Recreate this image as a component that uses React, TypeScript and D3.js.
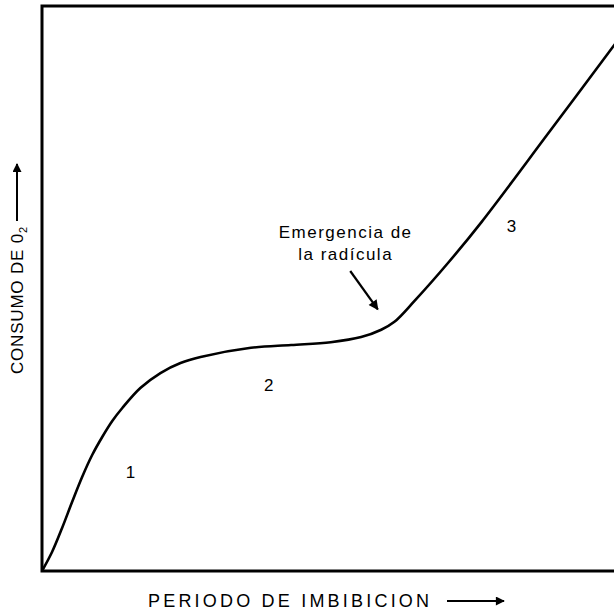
import { useEffect, useRef } from "react";
import * as d3 from "d3";

// periodo de imbibición (x) vs consumo de O2 (y), unidades relativas 0-100
const imbibicion = [0, 1.75, 3.5, 5.24, 6.99, 8.74, 10.49, 12.24, 13.99, 17.13, 20.63, 24.13, 27.62, 36.4, 43.4, 50.3, 55.6, 59.1, 61.4, 64.9, 70.8, 76.6, 88.3, 100];
const consumo = [0, 3.36, 7.61, 12.21, 16.64, 20.53, 23.72, 26.55, 28.85, 32.39, 35.04, 36.81, 37.88, 39.5, 40.0, 40.5, 41.4, 42.7, 44.1, 47.8, 54.6, 61.8, 77.6, 93.5];

// fases marcadas sobre la curva
const fases = [
  { label: "1", x: 15.4, y: 16.5 },
  { label: "2", x: 39.5, y: 31.9 },
  { label: "3", x: 81.8, y: 60.0 },
];
const nota = ["Emergencia de", "la radícula"];

export default function App() {
  const svgRef = useRef<SVGSVGElement | null>(null);
  const width = 614;
  const height = 611;

  useEffect(() => {
    if (!svgRef.current) return;
    const marginTop = 6;
    const marginRight = -2;
    const marginBottom = 40;
    const marginLeft = 42;

    const x = d3.scaleLinear([0, 100], [marginLeft, width - marginRight]);
    const y = d3.scaleLinear([0, 100], [height - marginBottom, marginTop]);

    const svg = d3.select(svgRef.current);
    const font = "'Liberation Sans', Arial, Helvetica, sans-serif";

    svg.append("defs").append("marker")
      .attr("id", "head")
      .attr("viewBox", "0 0 10 10")
      .attr("refX", 9)
      .attr("refY", 5)
      .attr("markerWidth", 6.5)
      .attr("markerHeight", 4.5)
      .attr("markerUnits", "strokeWidth")
      .attr("orient", "auto")
      .append("path")
      .attr("d", "M0,0L10,5L0,10z")
      .attr("fill", "#000");

    // frame
    svg.append("rect")
      .attr("x", x(0))
      .attr("y", y(100))
      .attr("width", x(100) - x(0))
      .attr("height", y(0) - y(100))
      .attr("fill", "none")
      .attr("stroke", "#000")
      .attr("stroke-width", 3);

    const line = d3.line<number>()
      .x((_, i) => x(imbibicion[i]))
      .y((d) => y(d))
      .curve(d3.curveCatmullRom.alpha(0.5));

    svg.append("path")
      .attr("fill", "none")
      .attr("stroke", "#000")
      .attr("stroke-width", 2.6)
      .attr("d", line(consumo));

    svg.append("g")
      .selectAll("text")
      .data(fases)
      .join("text")
      .attr("x", (d) => x(d.x))
      .attr("y", (d) => y(d.y))
      .attr("text-anchor", "middle")
      .attr("font-family", font)
      .attr("font-size", 17)
      .text((d) => d.label);

    // annotation
    svg.append("text")
      .attr("x", x(52.9))
      .attr("y", y(58.9))
      .attr("text-anchor", "middle")
      .attr("font-family", font)
      .attr("font-size", 17)
      .attr("letter-spacing", 1.5)
      .selectAll("tspan")
      .data(nota)
      .join("tspan")
      .attr("x", x(52.9))
      .attr("dy", (_, i) => (i === 0 ? 0 : 22))
      .text((d) => d);

    svg.append("line")
      .attr("x1", x(53.7))
      .attr("y1", y(53.1))
      .attr("x2", x(58.5))
      .attr("y2", y(46.3))
      .attr("stroke", "#000")
      .attr("stroke-width", 2.2)
      .attr("marker-end", "url(#head)");

    // x axis label
    svg.append("text")
      .attr("x", 148)
      .attr("y", height - 4)
      .attr("font-family", font)
      .attr("font-size", 18)
      .attr("letter-spacing", 3.2)
      .text("PERIODO DE IMBIBICION");
    svg.append("line")
      .attr("x1", 447)
      .attr("y1", height - 10)
      .attr("x2", 504)
      .attr("y2", height - 10)
      .attr("stroke", "#000")
      .attr("stroke-width", 2)
      .attr("marker-end", "url(#head)");

    // y axis label
    const yl = svg.append("text")
      .attr("transform", `translate(23,374) rotate(-90)`)
      .attr("font-family", font)
      .attr("font-size", 17)
      .attr("letter-spacing", 0.8);
    yl.append("tspan").text("CONSUMO DE 0");
    yl.append("tspan").attr("font-size", 11).attr("dy", 4).text("2");
    svg.append("line")
      .attr("x1", 17)
      .attr("y1", 221)
      .attr("x2", 17)
      .attr("y2", 164)
      .attr("stroke", "#000")
      .attr("stroke-width", 2)
      .attr("marker-end", "url(#head)");

    return () => {
      svg.selectAll("*").remove();
    };
  }, []);

  return (
    <svg
      ref={svgRef}
      width={width}
      height={height}
      viewBox={`0 0 ${width} ${height}`}
      style={{ position: "absolute", left: 0, top: 0, background: "#fff" }}
    ></svg>
  );
}
